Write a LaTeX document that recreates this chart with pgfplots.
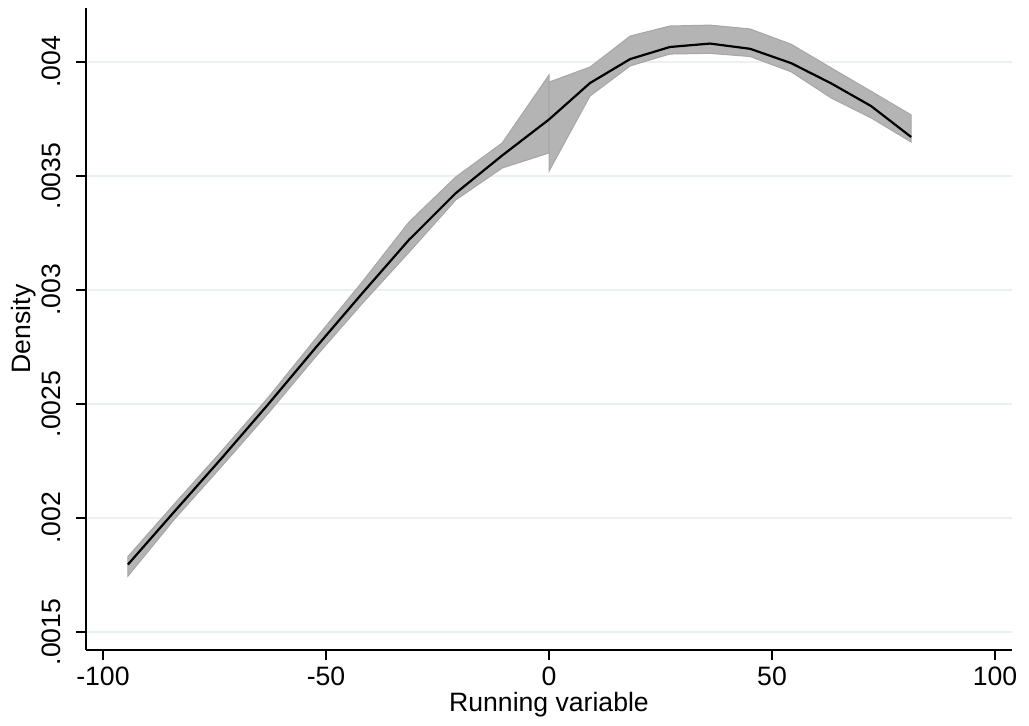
\documentclass[border=0pt]{standalone}
\usepackage{fontspec}
\setmainfont{Liberation Sans}
\usepackage{pgfplots}
\pgfplotsset{compat=1.18}
\definecolor{gridc}{RGB}{234,241,243}
\definecolor{bandfill}{RGB}{180,180,180}
\definecolor{bandedge}{RGB}{166,166,166}
\begin{document}
\begin{tikzpicture}
\useasboundingbox (-43pt,-37.5pt) rectangle (471.5pt,325pt);
\begin{axis}[
 scale only axis, width=463pt, height=321pt,
 xmin=-103.8, xmax=103.8, ymin=0.001421, ymax=0.004237,
 axis lines=left, axis line style={-, line width=0.6pt},
 xtick={-100,-50,0,50,100},
 xticklabels={-100,-50,0,50,100},
 ytick={0.0015,0.002,0.0025,0.003,0.0035,0.004},
 yticklabels={.0015,.002,.0025,.003,.0035,.004},
 tick align=outside, major tick length=5pt,
 tick style={black, line width=0.6pt},
 ymajorgrids, grid style={gridc, line width=0.7pt},
 font=\fontsize{13.3}{15}\selectfont,
 ticklabel style={font=\fontsize{13.3}{15}\selectfont},
 xticklabel style={anchor=base, inner sep=0pt},
 xticklabel shift=12.8pt,
 yticklabel style={rotate=90, anchor=base, inner sep=0pt},
 yticklabel shift=7.5pt,
 xlabel={Running variable}, ylabel={Density},
 xlabel style={at={(axis description cs:0.5,-0.0958)}, anchor=base, inner sep=0pt},
 ylabel style={at={(axis description cs:-0.0595,0.5)}, anchor=base, inner sep=0pt},
 scaled y ticks=false,
 clip=false,
]
% left confidence band
\addplot[fill=bandfill, draw=bandedge, line width=0.5pt] coordinates {
 (-94.4,0.001831) (-83.9,0.002064) (-73.4,0.002294) (-62.9,0.002530) (-52.4,0.002785)
 (-41.9,0.003035) (-31.4,0.003298) (-20.9,0.003496) (-10.5,0.003645) (0,0.003943)
 (0,0.003601) (-10.5,0.003535) (-20.9,0.003395) (-31.4,0.003165) (-41.9,0.002940)
 (-52.4,0.002705) (-62.9,0.002460) (-73.4,0.002226) (-83.9,0.001996) (-94.4,0.001745)
} -- cycle;
% right confidence band
\addplot[fill=bandfill, draw=bandedge, line width=0.5pt] coordinates {
 (0,0.003912) (9.2,0.003978) (18.2,0.004114) (27.1,0.004158) (36.1,0.004162)
 (45.1,0.004145) (54.3,0.004078) (63.2,0.003975) (72.2,0.003872) (81.2,0.003768)
 (81.2,0.003649) (72.2,0.003755) (63.2,0.003843) (54.3,0.003957) (45.1,0.004024)
 (36.1,0.004038) (27.1,0.004035) (18.2,0.003983) (9.2,0.003851) (0,0.003521)
} -- cycle;
% left density estimate
\addplot[black, line width=1.1pt] coordinates {
 (-94.4,0.001796) (-83.9,0.002030) (-73.4,0.002262) (-62.9,0.002500) (-52.4,0.002745)
 (-41.9,0.002985) (-31.4,0.003220) (-20.9,0.003425) (-10.5,0.003590) (0,0.003748)
};
% right density estimate
\addplot[black, line width=1.1pt] coordinates {
 (0,0.003748) (9.2,0.003908) (18.2,0.004013) (27.1,0.004066) (36.1,0.004081)
 (45.1,0.004058) (54.3,0.003995) (63.2,0.003907) (72.2,0.003807) (81.2,0.003671)
};
\end{axis}
\end{tikzpicture}
\end{document}
